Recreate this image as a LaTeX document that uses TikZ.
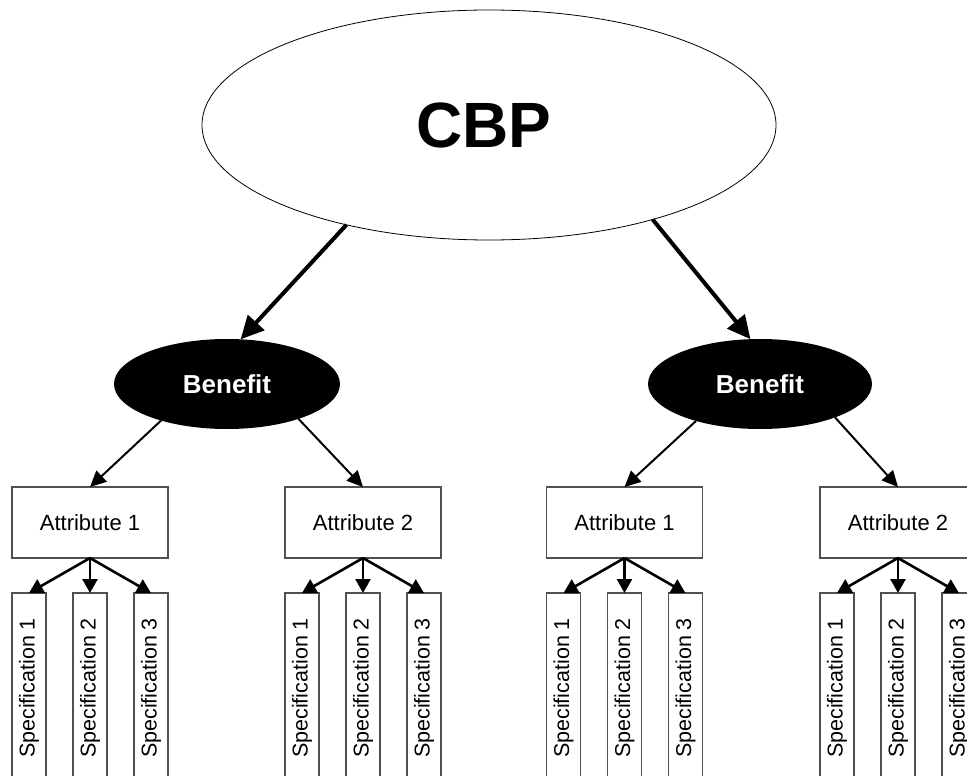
\documentclass[tikz,border=0pt]{standalone}
\usepackage{fontspec}
\setmainfont{Liberation Sans}
\usetikzlibrary{shapes.geometric,arrows.meta}
\definecolor{boxline}{HTML}{505050}
\begin{document}
\begin{tikzpicture}[x=1pt,y=-1pt,
  root/.style={ellipse,draw,line width=0.8pt,inner sep=0pt,outer sep=0pt,
    minimum width=574pt,minimum height=230pt,font=\fontsize{64}{64}\selectfont\bfseries},
  benefit/.style={ellipse,fill=black,text=white,inner sep=0pt,outer sep=0pt,
    minimum width=226pt,minimum height=90pt,font=\fontsize{26}{26}\selectfont\bfseries},
  attr/.style={rectangle,draw=boxline,line width=1.2pt,inner sep=0pt,outer sep=0pt,
    minimum width=156pt,minimum height=71pt,font=\fontsize{22}{22}\selectfont},
  spec/.style={rectangle,draw=boxline,line width=1.2pt,inner sep=0pt,outer sep=0pt,
    rotate=90,minimum width=190pt,minimum height=34pt,font=\fontsize{21.5}{21.5}\selectfont},
  bigarrow/.style={line width=4pt,-{Triangle[length=23pt,width=22pt]}},
  midarrow/.style={line width=2pt,-{Triangle[length=16pt,width=15pt]}},
  smallarrow/.style={line width=2.6pt,-{Triangle[length=14pt,width=15pt]}}]
\useasboundingbox (0,0) rectangle (967,776);
\clip (0,0) rectangle (967,776);

% root and the two benefits
\node[root] (cbp) at (489,125) {\hspace*{-10pt}CBP};
\node[benefit] (b1) at (227,384) {Benefit};
\node[benefit,minimum width=224pt] (b2) at (760,384) {Benefit};

% attributes
\node[attr] (a1) at (90,522.5) {Attribute 1};
\node[attr] (a2) at (363,522.5) {Attribute 2};
\node[attr] (a3) at (624.5,522.5) {Attribute 1};
\node[attr] (a4) at (898,522.5) {Attribute 2};

% specifications under each attribute
\foreach \a/\x in {1/90,2/363,3/624.5,4/898}{
  \node[spec] (s\a1) at (\x-61,688) {Specification 1};
  \node[spec] (s\a2) at (\x,688) {Specification 2};
  \node[spec] (s\a3) at (\x+61,688) {Specification 3};
}

% connectors
\draw[bigarrow] (cbp.215.9) -- (b1.73.8);
\draw[bigarrow] (cbp.330.5) -- (b2.102.6);

\draw[midarrow] (b1.209.5) -- (a1.north);
\draw[midarrow] (b1.334.8) -- (a2.north);
\draw[midarrow] (b2.210.6) -- (a3.north);
\draw[midarrow] (b2.336) -- (a4.north);

\foreach \a in {1,2,3,4}{
  \draw[smallarrow] (a\a.south) -- (s\a1.east);
  \draw[smallarrow] (a\a.south) -- (s\a2.east);
  \draw[smallarrow] (a\a.south) -- (s\a3.east);
}
\end{tikzpicture}
\end{document}
